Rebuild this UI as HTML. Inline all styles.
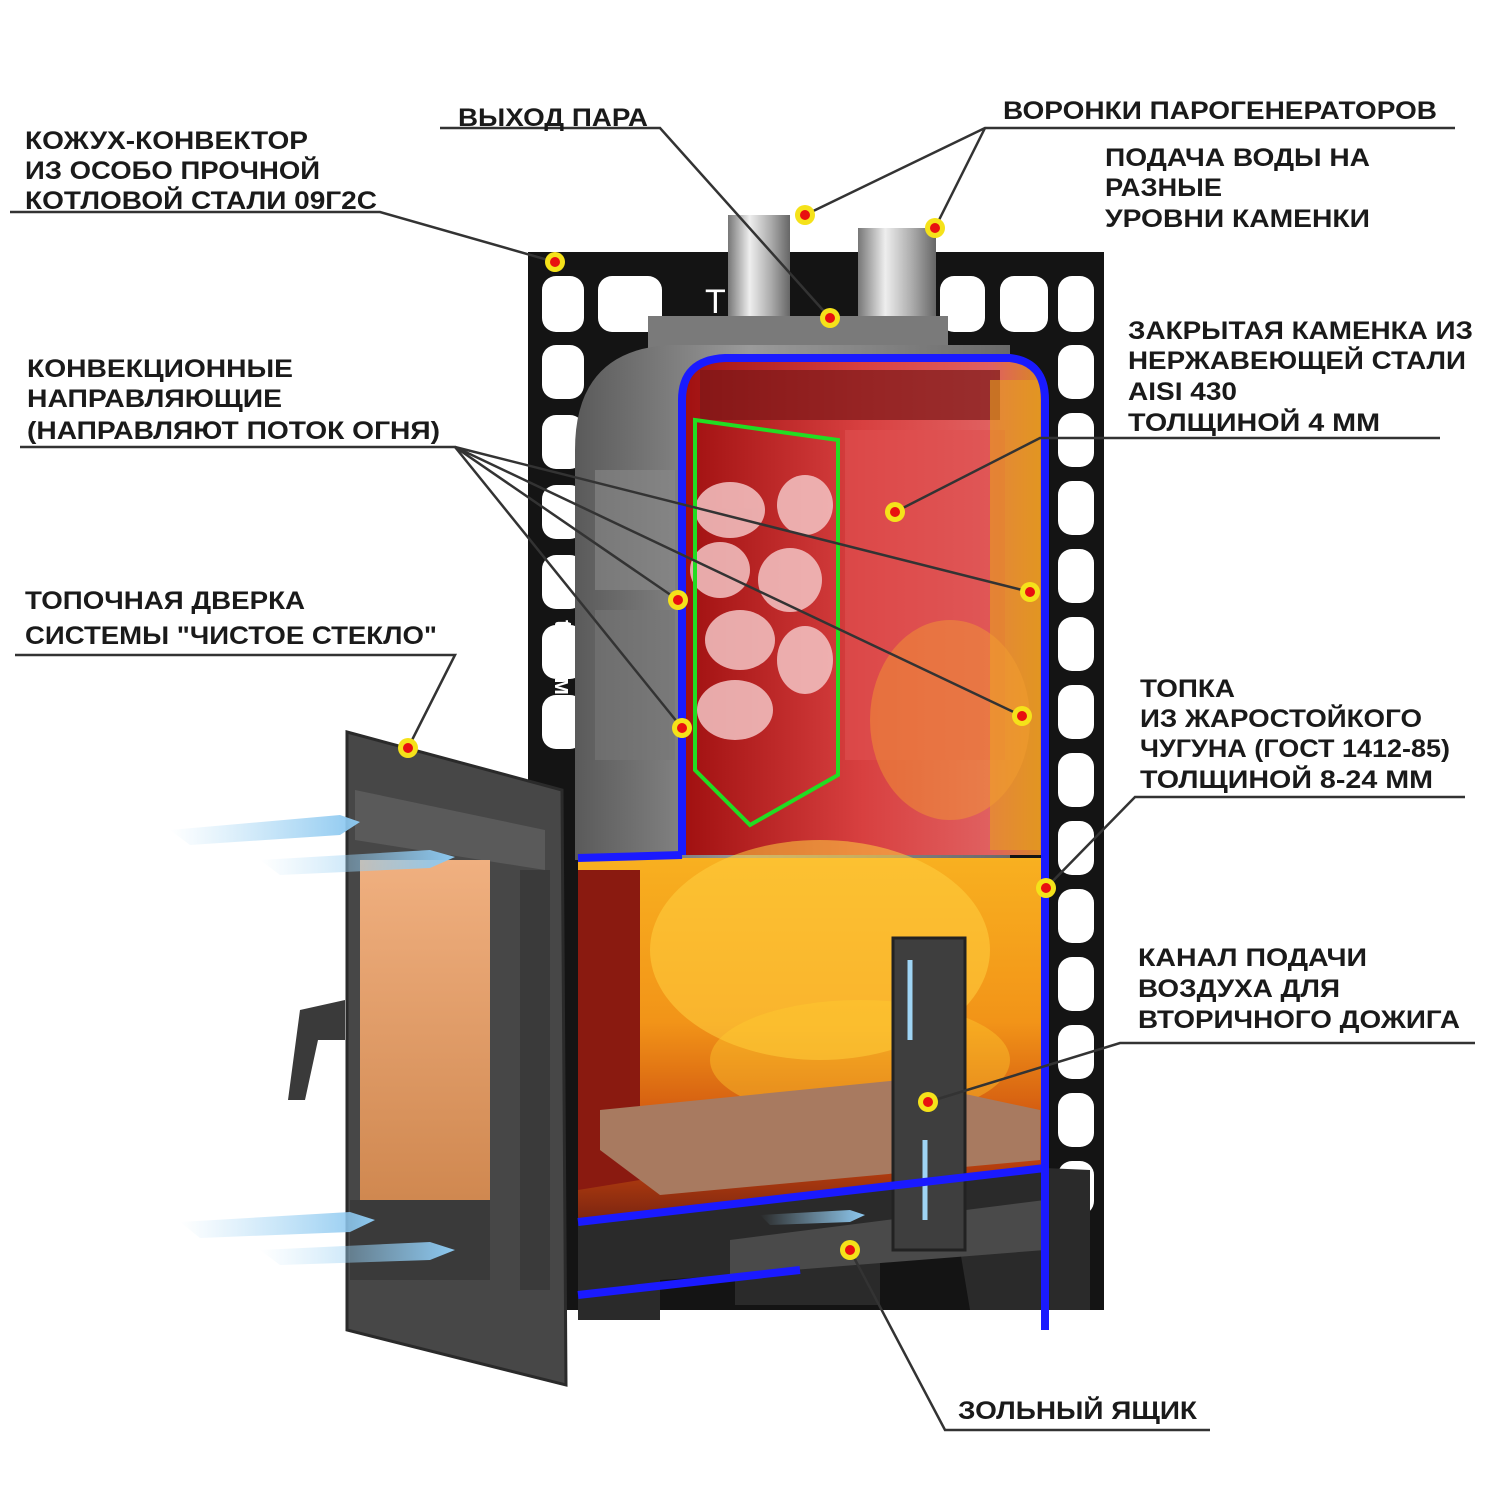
<!DOCTYPE html>
<html><head><meta charset="utf-8"><style>
html,body{margin:0;padding:0;background:#fff;width:1500px;height:1500px;overflow:hidden}
svg{display:block}
text{font-family:"Liberation Sans","DejaVu Sans",sans-serif;font-weight:bold;font-size:25px;fill:#1a1a1a}
</style></head><body>
<svg width="1500" height="1500" viewBox="0 0 1500 1500" xmlns="http://www.w3.org/2000/svg">
<defs>
<linearGradient id="fire" x1="0" y1="0" x2="0" y2="1">
<stop offset="0" stop-color="#f8b020"/><stop offset="0.45" stop-color="#f29418"/><stop offset="0.8" stop-color="#c8460e"/><stop offset="1" stop-color="#7a2410"/></linearGradient>
<linearGradient id="red" x1="0" y1="0" x2="1" y2="0">
<stop offset="0" stop-color="#a01010"/><stop offset="0.5" stop-color="#d84040"/><stop offset="0.85" stop-color="#e06060"/><stop offset="1" stop-color="#d88a20"/></linearGradient>
<linearGradient id="gray" x1="0" y1="0" x2="1" y2="0">
<stop offset="0" stop-color="#5a5a5a"/><stop offset="0.4" stop-color="#9a9a9a"/><stop offset="1" stop-color="#6a6a6a"/></linearGradient>
<linearGradient id="glass" x1="0" y1="0" x2="0" y2="1">
<stop offset="0" stop-color="#f0b080"/><stop offset="1" stop-color="#d08850"/></linearGradient>
<linearGradient id="pipe" x1="0" y1="0" x2="1" y2="0">
<stop offset="0" stop-color="#777"/><stop offset="0.35" stop-color="#eee"/><stop offset="0.7" stop-color="#aaa"/><stop offset="1" stop-color="#666"/></linearGradient>
<linearGradient id="air" x1="0" y1="0" x2="1" y2="0">
<stop offset="0" stop-color="#9fd4f4" stop-opacity="0"/><stop offset="1" stop-color="#8cc8f0"/></linearGradient>
</defs>

<rect x="528" y="252" width="576" height="1058" fill="#141414"/>
<g fill="#fff">
<rect x="542" y="276" width="42" height="56" rx="14"/>
<rect x="598" y="276" width="64" height="56" rx="14"/>
<rect x="940" y="276" width="45" height="56" rx="14"/>
<rect x="1000" y="276" width="48" height="56" rx="14"/>
<rect x="1058" y="276" width="36" height="56" rx="14"/>
<rect x="542" y="345" width="42" height="54" rx="14"/>
<rect x="542" y="415" width="42" height="54" rx="14"/>
<rect x="542" y="485" width="42" height="54" rx="14"/>
<rect x="542" y="555" width="42" height="54" rx="14"/>
<rect x="542" y="625" width="42" height="54" rx="14"/>
<rect x="542" y="695" width="42" height="54" rx="14"/>
</g>
<g fill="#fff">
<rect x="1058" y="345" width="36" height="54" rx="14"/>
<rect x="1058" y="413" width="36" height="54" rx="14"/>
<rect x="1058" y="481" width="36" height="54" rx="14"/>
<rect x="1058" y="549" width="36" height="54" rx="14"/>
<rect x="1058" y="617" width="36" height="54" rx="14"/>
<rect x="1058" y="685" width="36" height="54" rx="14"/>
<rect x="1058" y="753" width="36" height="54" rx="14"/>
<rect x="1058" y="821" width="36" height="54" rx="14"/>
<rect x="1058" y="889" width="36" height="54" rx="14"/>
<rect x="1058" y="957" width="36" height="54" rx="14"/>
<rect x="1058" y="1025" width="36" height="54" rx="14"/>
<rect x="1058" y="1093" width="36" height="54" rx="14"/>
<rect x="1058" y="1161" width="36" height="54" rx="14"/>
</g>
<text x="705" y="313" fill="#fff" style="fill:#fff;font-size:34px;font-weight:normal">T</text>

<rect x="728" y="215" width="62" height="120" fill="url(#pipe)"/>
<rect x="858" y="228" width="78" height="125" fill="url(#pipe)"/>
<rect x="648" y="316" width="300" height="36" fill="#7a7a7a"/>
<path d="M575 860 L575 450 Q575 350 670 345 L1010 345 L1010 860 Z" fill="url(#gray)"/>
<rect x="595" y="470" width="80" height="120" fill="#888" opacity="0.6"/>
<rect x="595" y="610" width="80" height="150" fill="#777" opacity="0.6"/>
<text x="555" y="620" transform="rotate(90 555 620)" style="fill:#fff;font-size:24px">tetegм</text>

<path d="M682 855 L682 400 Q682 360 725 358 L1010 358 Q1045 362 1045 400 L1045 855 Z" fill="url(#red)"/>
<rect x="700" y="370" width="300" height="50" fill="#7a1818" opacity="0.7"/>
<rect x="845" y="430" width="160" height="330" fill="#e05050" opacity="0.6"/>
<g fill="#f4c4c4" opacity="0.85">
<ellipse cx="730" cy="510" rx="35" ry="28"/><ellipse cx="805" cy="505" rx="28" ry="30"/>
<ellipse cx="720" cy="570" rx="30" ry="28"/><ellipse cx="790" cy="580" rx="32" ry="32"/>
<ellipse cx="740" cy="640" rx="35" ry="30"/><ellipse cx="805" cy="660" rx="28" ry="34"/>
<ellipse cx="735" cy="710" rx="38" ry="30"/>
</g>
<rect x="990" y="380" width="50" height="470" fill="#e8a020" opacity="0.6"/>
<ellipse cx="950" cy="720" rx="80" ry="100" fill="#f4a030" opacity="0.45"/>
<path d="M695 420 L838 440 L838 775 L750 825 L695 770 Z" fill="none" stroke="#22dd22" stroke-width="4"/>

<path d="M578 858 L1045 858 L1045 1168 L578 1222 Z" fill="url(#fire)"/>
<path d="M578 870 L640 870 L640 1180 L578 1190 Z" fill="#8a1a10"/>
<ellipse cx="820" cy="950" rx="170" ry="110" fill="#ffd040" opacity="0.55"/>
<ellipse cx="860" cy="1060" rx="150" ry="60" fill="#ffcc30" opacity="0.4"/>
<path d="M600 1110 L900 1080 L1040 1110 L1040 1160 L660 1195 L600 1150 Z" fill="#a87a60"/>
<path d="M578 1222 L1045 1168 L1090 1170 L1090 1310 L970 1310 L960 1250 L880 1260 L880 1305 L735 1305 L735 1275 L660 1280 L660 1320 L578 1320 Z" fill="#2a2a2a"/>
<path d="M730 1240 L1045 1200 L1045 1250 L730 1275 Z" fill="#4a4a4a"/>
<rect x="893" y="938" width="72" height="312" fill="#3e3e3e" stroke="#222" stroke-width="3"/>
<line x1="910" y1="1040" x2="910" y2="960" stroke="#9fd4f4" stroke-width="5"/>
<line x1="925" y1="1220" x2="925" y2="1140" stroke="#9fd4f4" stroke-width="5"/>

<g fill="none" stroke="#1a1aff" stroke-width="8">
<path d="M682 855 L682 400 Q682 360 725 358 L1010 358 Q1045 362 1045 400 L1045 1330"/>
<path d="M578 858 L682 855"/>
<path d="M578 1222 L1045 1168"/>
<path d="M578 1295 L800 1270"/>
</g>

<path d="M347 732 L562 790 L566 1385 L347 1330 Z" fill="#474747" stroke="#2a2a2a" stroke-width="3"/>
<path d="M355 790 L545 830 L545 870 L355 840 Z" fill="#5a5a5a"/>
<rect x="360" y="860" width="130" height="340" fill="url(#glass)"/>
<rect x="350" y="1200" width="140" height="80" fill="#3a3a3a"/>
<rect x="520" y="870" width="30" height="420" fill="#3a3a3a"/>
<path d="M345 1000 L300 1010 L288 1100 L305 1100 L318 1040 L345 1040 Z" fill="#3a3a3a"/>
<g fill="url(#air)">
<path d="M170 830 L340 815 L360 822 L340 835 L190 845 Z"/>
<path d="M260 860 L430 850 L455 857 L430 868 L280 875 Z"/>
<path d="M180 1222 L350 1212 L375 1220 L350 1232 L200 1238 Z"/>
<path d="M260 1250 L430 1242 L455 1250 L430 1260 L280 1265 Z"/>
<path d="M760 1215 L850 1210 L865 1215 L850 1222 L770 1225 Z"/>
</g>

<g stroke="#333" stroke-width="2.5" fill="none">
<polyline points="10,212 380,212 555,262"/>
<polyline points="440,128 660,128 830,318"/>
<polyline points="1455,128 985,128 805,215"/>
<line x1="985" y1="128" x2="935" y2="228"/>
<polyline points="1440,438 1040,438 895,512"/>
<polyline points="20,447 455,447 678,600"/>
<line x1="455" y1="447" x2="682" y2="728"/>
<line x1="455" y1="447" x2="1030" y2="592"/>
<line x1="455" y1="447" x2="1022" y2="716"/>
<polyline points="15,655 455,655 408,748"/>
<polyline points="1465,797 1135,797 1046,888"/>
<polyline points="1475,1043 1120,1043 928,1102"/>
<polyline points="1210,1430 945,1430 850,1250"/>
</g>

<g>
<g fill="#f5e21a">
<circle cx="555" cy="262" r="10"/><circle cx="830" cy="318" r="10"/><circle cx="805" cy="215" r="10"/><circle cx="935" cy="228" r="10"/>
<circle cx="895" cy="512" r="10"/><circle cx="678" cy="600" r="10"/><circle cx="682" cy="728" r="10"/><circle cx="1030" cy="592" r="10"/>
<circle cx="1022" cy="716" r="10"/><circle cx="408" cy="748" r="10"/><circle cx="1046" cy="888" r="10"/><circle cx="928" cy="1102" r="10"/><circle cx="850" cy="1250" r="10"/>
</g>
<g fill="#e81010">
<circle cx="555" cy="262" r="5"/><circle cx="830" cy="318" r="5"/><circle cx="805" cy="215" r="5"/><circle cx="935" cy="228" r="5"/>
<circle cx="895" cy="512" r="5"/><circle cx="678" cy="600" r="5"/><circle cx="682" cy="728" r="5"/><circle cx="1030" cy="592" r="5"/>
<circle cx="1022" cy="716" r="5"/><circle cx="408" cy="748" r="5"/><circle cx="1046" cy="888" r="5"/><circle cx="928" cy="1102" r="5"/><circle cx="850" cy="1250" r="5"/>
</g>
</g>

<g>
<text x="25" y="149" textLength="283" lengthAdjust="spacingAndGlyphs">КОЖУХ-КОНВЕКТОР</text>
<text x="25" y="179" textLength="295" lengthAdjust="spacingAndGlyphs">ИЗ ОСОБО ПРОЧНОЙ</text>
<text x="25" y="209" textLength="352" lengthAdjust="spacingAndGlyphs">КОТЛОВОЙ СТАЛИ 09Г2С</text>
<text x="458" y="126" textLength="190" lengthAdjust="spacingAndGlyphs">ВЫХОД ПАРА</text>
<text x="1003" y="119" textLength="434" lengthAdjust="spacingAndGlyphs">ВОРОНКИ ПАРОГЕНЕРАТОРОВ</text>
<text x="1105" y="166" textLength="265" lengthAdjust="spacingAndGlyphs">ПОДАЧА ВОДЫ НА</text>
<text x="1105" y="196" textLength="117" lengthAdjust="spacingAndGlyphs">РАЗНЫЕ</text>
<text x="1105" y="227" textLength="265" lengthAdjust="spacingAndGlyphs">УРОВНИ КАМЕНКИ</text>
<text x="1128" y="339" textLength="345" lengthAdjust="spacingAndGlyphs">ЗАКРЫТАЯ КАМЕНКА ИЗ</text>
<text x="1128" y="369" textLength="338" lengthAdjust="spacingAndGlyphs">НЕРЖАВЕЮЩЕЙ СТАЛИ</text>
<text x="1128" y="400" textLength="109" lengthAdjust="spacingAndGlyphs">AISI 430</text>
<text x="1128" y="431" textLength="252" lengthAdjust="spacingAndGlyphs">ТОЛЩИНОЙ 4 ММ</text>
<text x="27" y="377" textLength="266" lengthAdjust="spacingAndGlyphs">КОНВЕКЦИОННЫЕ</text>
<text x="27" y="407" textLength="255" lengthAdjust="spacingAndGlyphs">НАПРАВЛЯЮЩИЕ</text>
<text x="27" y="439" textLength="413" lengthAdjust="spacingAndGlyphs">(НАПРАВЛЯЮТ ПОТОК ОГНЯ)</text>
<text x="25" y="609" textLength="280" lengthAdjust="spacingAndGlyphs">ТОПОЧНАЯ ДВЕРКА</text>
<text x="25" y="644" textLength="412" lengthAdjust="spacingAndGlyphs">СИСТЕМЫ "ЧИСТОЕ СТЕКЛО"</text>
<text x="1140" y="697" textLength="95" lengthAdjust="spacingAndGlyphs">ТОПКА</text>
<text x="1140" y="727" textLength="282" lengthAdjust="spacingAndGlyphs">ИЗ ЖАРОСТОЙКОГО</text>
<text x="1140" y="757" textLength="310" lengthAdjust="spacingAndGlyphs">ЧУГУНА (ГОСТ 1412-85)</text>
<text x="1140" y="788" textLength="293" lengthAdjust="spacingAndGlyphs">ТОЛЩИНОЙ 8-24 ММ</text>
<text x="1138" y="966" textLength="229" lengthAdjust="spacingAndGlyphs">КАНАЛ ПОДАЧИ</text>
<text x="1138" y="997" textLength="202" lengthAdjust="spacingAndGlyphs">ВОЗДУХА ДЛЯ</text>
<text x="1138" y="1028" textLength="322" lengthAdjust="spacingAndGlyphs">ВТОРИЧНОГО ДОЖИГА</text>
<text x="958" y="1419" textLength="239" lengthAdjust="spacingAndGlyphs">ЗОЛЬНЫЙ ЯЩИК</text>
</g>
</svg>
</body></html>
